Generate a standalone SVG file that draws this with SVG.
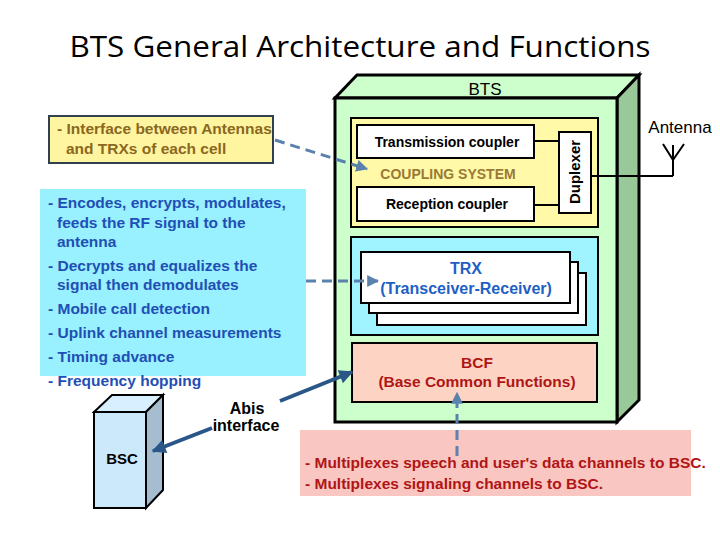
<svg xmlns="http://www.w3.org/2000/svg" width="720" height="540" viewBox="0 0 720 540">
<defs>
<style>
.t{font-family:"Liberation Sans",Arial,sans-serif}
.b{font-weight:bold}
.blk{stroke:#000;stroke-width:3}
.card{fill:#fff;stroke:#000;stroke-width:2}
.dash{fill:none;stroke:#5a82ad;stroke-width:3;stroke-dasharray:10 6}
.abis{fill:none;stroke:#2a5788;stroke-width:4}
.blue{fill:#1f4fb5}
</style>
<marker id="ad" viewBox="0 0 10 10" refX="9" refY="5" markerWidth="4" markerHeight="4" orient="auto"><path d="M0,0L10,5L0,10z" fill="#5a82ad"/></marker>
<marker id="aa" viewBox="0 0 10 10" refX="9" refY="5" markerWidth="4" markerHeight="3.5" orient="auto-start-reverse"><path d="M0,0L10,5L0,10z" fill="#2a5788"/></marker>
</defs>
<rect width="720" height="540" fill="#fff"/>
<text x="360" y="57" font-size="30" text-anchor="middle" textLength="581" lengthAdjust="spacingAndGlyphs" fill="#000" style="font-family:'Open Sans','Noto Sans',sans-serif">BTS General Architecture and Functions</text>

<g id="bts">
<polygon points="335,98 357,75 639,75 617,98" fill="#ccffcc" class="blk"/>
<polygon points="617,98 639,75 639,400 617,422" fill="#99c899" class="blk"/>
<rect x="335" y="98" width="282" height="324" fill="#ccffcc" class="blk"/>
<text class="t" x="485" y="95" font-size="17" text-anchor="middle">BTS</text>
</g>

<g id="coupling">
<rect x="351" y="118" width="247" height="109" fill="#fff9a8" stroke="#000" stroke-width="2"/>
<text class="t b" x="448" y="179" font-size="14" text-anchor="middle" fill="#9a7a35">COUPLING SYSTEM</text>
</g>
<g id="tx">
<rect x="357" y="125" width="177" height="33" class="card"/>
<text class="t b" x="447" y="147" font-size="14" text-anchor="middle">Transmission coupler</text>
</g>
<g id="rx">
<rect x="357" y="187" width="177" height="34" class="card"/>
<text class="t b" x="447" y="209" font-size="14" text-anchor="middle">Reception coupler</text>
</g>
<g id="duplexer">
<rect x="559" y="132" width="32" height="81" class="card"/>
<text class="t b" x="0" y="0" font-size="15" text-anchor="middle" transform="translate(580,172) rotate(-90)">Duplexer</text>
</g>

<g id="trx">
<rect x="351" y="237" width="247" height="98" fill="#a0f4ff" stroke="#000" stroke-width="2"/>
<rect x="377" y="273" width="209" height="52" class="card"/>
<rect x="369" y="262" width="209" height="51" class="card"/>
<rect x="361" y="252" width="209" height="51" class="card"/>
<text class="t b" x="466" y="274" font-size="16" text-anchor="middle" fill="#1f5fc5">TRX</text>
<text class="t b" x="466" y="294" font-size="16" text-anchor="middle" fill="#1f5fc5">(Transceiver-Receiver)</text>
</g>

<g id="bcf">
<rect x="352" y="343" width="245" height="59" fill="#fdd3c3" stroke="#000" stroke-width="2"/>
<text class="t b" x="477" y="368" font-size="15.5" text-anchor="middle" fill="#b01515">BCF</text>
<text class="t b" x="477" y="387" font-size="15.5" text-anchor="middle" fill="#b01515">(Base Common Functions)</text>
</g>

<g id="antenna">
<text class="t" x="680" y="133" font-size="17" text-anchor="middle">Antenna</text>
<path d="M663,144L673,160L684,144M673,145V176" fill="none" stroke="#000" stroke-width="2"/>
</g>

<g id="bsc">
<polygon points="94,412 112,395 163,395 146,412" fill="#d8efff" stroke="#000" stroke-width="2"/>
<polygon points="146,412 163,395 163,490 146,508" fill="#a6bdd0" stroke="#000" stroke-width="2"/>
<rect x="94" y="412" width="52" height="96" fill="#cce8fb" stroke="#000" stroke-width="2"/>
<text class="t b" x="122" y="464" font-size="15" text-anchor="middle">BSC</text>
</g>

<g id="note-coupling">
<rect x="49" y="116" width="224" height="47" fill="#fff5a0" stroke="#2f4050" stroke-width="2"/>
<text class="t b" font-size="15.5" fill="#8a6820"><tspan x="57" y="134">- Interface between Antennas</tspan><tspan x="66" y="154">and TRXs of each cell</tspan></text>
</g>

<g id="note-trx">
<rect x="40" y="189" width="266" height="187" fill="#99f0ff"/>
<text class="t b blue" font-size="15.5">
<tspan x="48" y="208">- Encodes, encrypts, modulates,</tspan>
<tspan x="57" y="228">feeds the RF signal to the</tspan>
<tspan x="57" y="247">antenna</tspan>
<tspan x="48" y="271">- Decrypts and equalizes the</tspan>
<tspan x="57" y="290">signal then demodulates</tspan>
<tspan x="48" y="314">- Mobile call detection</tspan>
<tspan x="48" y="338">- Uplink channel measurements</tspan>
<tspan x="48" y="362">- Timing advance</tspan>
<tspan x="48" y="386">- Frequency hopping</tspan>
</text>
</g>

<g id="note-bcf">
<rect x="300" y="430" width="391" height="66" fill="#f9c6c2"/>
<text class="t b" font-size="15.5" fill="#b01515"><tspan x="305" y="468">- Multiplexes speech and user's data channels to BSC.</tspan><tspan x="305" y="489">- Multiplexes signaling channels to BSC.</tspan></text>
</g>

<g id="abis-label">
<text class="t b" font-size="16" text-anchor="middle"><tspan x="247" y="414">Abis</tspan><tspan x="246" y="431">interface</tspan></text>
</g>

<g id="connectors">
<path d="M534,141H559M534,205H559M591,176H673" fill="none" stroke="#000" stroke-width="2"/>
<path d="M275,140L367,169" class="dash" marker-end="url(#ad)"/>
<path d="M306,281H378" class="dash" marker-end="url(#ad)"/>
<path d="M457,456V393" class="dash" marker-end="url(#ad)"/>
<path d="M280,401L352,372" class="abis" marker-end="url(#aa)"/>
<path d="M212,428L153,451" class="abis" marker-end="url(#aa)"/>
</g>
</svg>
